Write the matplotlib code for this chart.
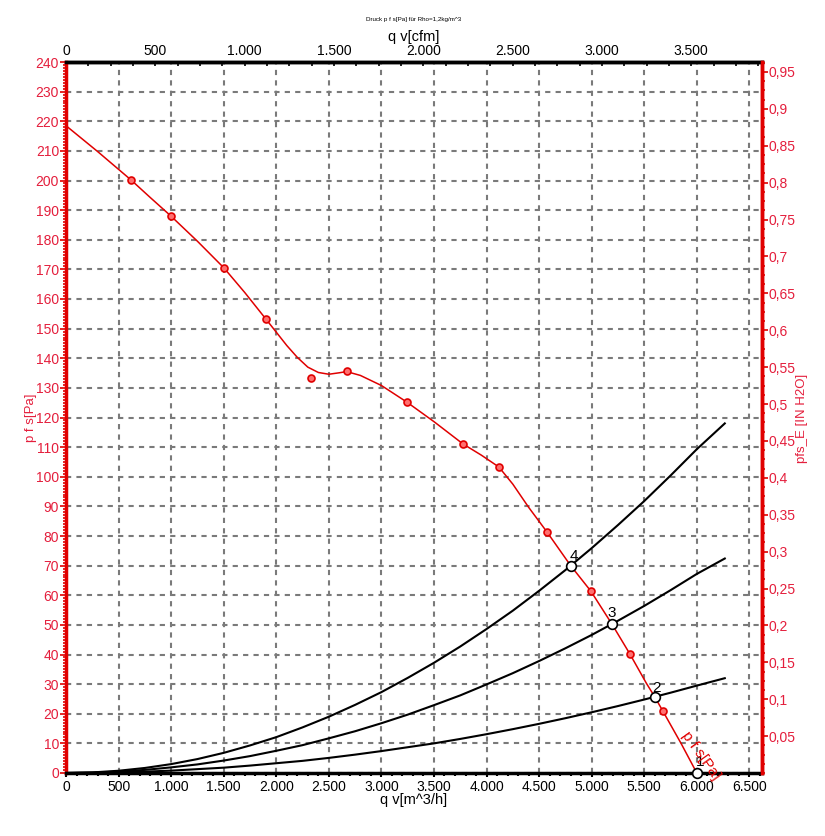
#import
import matplotlib
matplotlib.use("Agg")
import matplotlib.pyplot as plt
from matplotlib.ticker import MultipleLocator, FuncFormatter, FixedLocator

plt.rcParams['font.family'] = ['Liberation Sans', 'DejaVu Sans']

#data
# fan curve (smooth line) q v [m^3/h] / p f s [Pa]
q_curve = [0, 300, 618, 800, 998, 1250, 1502, 1700, 1902, 2000, 2100, 2200, 2300, 2400, 2500, 2600, 2669,
           2800, 3000, 3242, 3500, 3775, 3950, 4117, 4250, 4400, 4574, 4800, 4992, 5192, 5363, 5520, 5600,
           5677, 5850, 6000]
p_curve = [218.5, 209.8, 200.2, 194.3, 188.0, 179.5, 170.5, 162.2, 153.2, 148.8, 144.3, 140.3, 137.0, 135.2,
           134.6, 135.1, 135.5, 134.2, 130.8, 125.2, 118.6, 111.1, 107.3, 103.3, 97.5, 89.7, 81.4, 70.0, 61.4,
           50.3, 40.2, 30.3, 25.7, 20.9, 10.0, 0.0]
# measured points
q_meas = [618, 998, 1502, 1902, 2326, 2669, 3242, 3775, 4117, 4574, 4992, 5363, 5677]
p_meas = [200.2, 188.0, 170.5, 153.2, 133.4, 135.8, 125.2, 111.1, 103.3, 81.4, 61.4, 40.2, 20.9]

# system curves
q_sys = [0, 250, 500, 750, 1000, 1250, 1500, 1750, 2000, 2250, 2500, 2750, 3000, 3250, 3500, 3750,
         4000, 4250, 4500, 4750, 5000, 5250, 5500, 5750, 6000, 6266]
p_sys4 = [0, 0.19, 0.76, 1.7, 3.0, 4.7, 6.8, 9.3, 12.1, 15.4, 19.0, 23.0, 27.3, 32.1, 37.2, 42.7,
          48.6, 54.8, 61.5, 68.5, 75.9, 83.7, 91.8, 100.4, 109.3, 118.0]
p_sys3 = [0, 0.12, 0.47, 1.05, 1.9, 2.9, 4.2, 5.7, 7.5, 9.4, 11.7, 14.1, 16.8, 19.7, 22.9, 26.2,
          29.9, 33.7, 37.8, 42.1, 46.6, 51.4, 56.4, 61.7, 67.2, 72.4]
p_sys2 = [0, 0.05, 0.2, 0.46, 0.8, 1.3, 1.8, 2.5, 3.3, 4.1, 5.1, 6.2, 7.4, 8.7, 10.0, 11.5,
          13.1, 14.8, 16.6, 18.5, 20.5, 22.6, 24.8, 27.1, 29.5, 32.0]

# operating points
q_op = [6000, 5600, 5192, 4802]
p_op = [0.0, 25.7, 50.3, 70.0]
op_labels = ["1", "2", "3", "4"]

# tick values
cfm_ticks = [0, 500, 1000, 1500, 2000, 2500, 3000, 3500]
inh2o_ticks = [0.05, 0.1, 0.15, 0.2, 0.25, 0.3, 0.35, 0.4, 0.45, 0.5,
               0.55, 0.6, 0.65, 0.7, 0.75, 0.8, 0.85, 0.9, 0.95]

CFM = 1.699   # m^3/h per cfm
PA_IN = 249.09  # Pa per inch H2O
red = '#e00000'
txt_red = '#e41e3c'

#plotting
fig = plt.figure(figsize=(8.25, 8.36), dpi=100)
ax = fig.add_axes([66/825, 1-773/836, 696/825, 711/836])
ax.set_xlim(0, 6620)
ax.set_ylim(0, 240)

ax.plot(q_sys, p_sys4, color='black', lw=1.5, zorder=3)
ax.plot(q_sys, p_sys3, color='black', lw=1.5, zorder=3)
ax.plot(q_sys, p_sys2, color='black', lw=1.5, zorder=3)

ax.plot(q_curve, p_curve, color=red, lw=1.1, zorder=4)
ax.plot(q_meas, p_meas, 'o', ms=5, mfc='#ff7070', mec=red, mew=1.2, zorder=5)

ax.plot(q_op, p_op, 'o', ms=7, mfc='white', mec='black', mew=1.2, zorder=6, clip_on=False)
offs = [(3, 11), (2, 9), (0, 11), (3, 10)]
for q, p, lab, o in zip(q_op, p_op, op_labels, offs):
    ax.annotate(lab, (q, p), xytext=o, textcoords='offset pixels', ha='center', va='center',
                fontsize=11, zorder=7, annotation_clip=False)

ax.text(6038, 6, "p f s[Pa]", color=red, fontsize=11, rotation=-54.5,
        rotation_mode='anchor', ha='center', va='center', zorder=7, clip_on=False)

#grid
ax.xaxis.set_major_locator(MultipleLocator(500))
ax.xaxis.set_minor_locator(MultipleLocator(100))
ax.yaxis.set_major_locator(MultipleLocator(10))
ax.yaxis.set_minor_locator(MultipleLocator(1))
ax.grid(True, which='major', color='#7a7a7a', lw=1.5, ls=(0, (2.5, 2.5)), zorder=1)

dotfmt = FuncFormatter(lambda v, pos: f"{int(round(v)):,}".replace(',', '.'))
ax.xaxis.set_major_formatter(dotfmt)
ax.tick_params(axis='x', which='both', direction='out', colors='black', labelsize=10, pad=2)
ax.tick_params(axis='x', which='major', length=3, width=1.5)
ax.tick_params(axis='x', which='minor', length=2, width=1.5)
ax.tick_params(axis='y', which='both', direction='out', color=red, labelcolor=txt_red, labelsize=10, pad=1)
ax.tick_params(axis='y', which='major', length=4, width=1.2)
ax.tick_params(axis='y', which='minor', length=2, width=1.2)

for s in ['top', 'bottom']:
    ax.spines[s].set_color('black')
    ax.spines[s].set_linewidth(2.5)
for s in ['left', 'right']:
    ax.spines[s].set_color(red)
    ax.spines[s].set_linewidth(2.5)

#top axis cfm
top = ax.secondary_xaxis('top', functions=(lambda x: x / CFM, lambda x: x * CFM))
top.xaxis.set_major_locator(FixedLocator(cfm_ticks))
top.xaxis.set_minor_locator(FixedLocator([c + 125 * i for c in cfm_ticks for i in (1, 2, 3)]))
top.xaxis.set_major_formatter(dotfmt)
top.tick_params(which='both', direction='in', length=3, width=1.2, labelsize=10, pad=3)
top.spines['top'].set_linewidth(2.5)

#right axis in H2O
ax2 = ax.twinx()
ax2.set_ylim(0, 240 / PA_IN)
ax2.yaxis.set_major_locator(FixedLocator(inh2o_ticks))
ax2.yaxis.set_minor_locator(MultipleLocator(0.0125))
ax2.yaxis.set_major_formatter(FuncFormatter(lambda v, pos: f"{v:.2f}".rstrip('0').replace('.', ',')))
ax2.tick_params(axis='y', which='both', direction='out', color=red, labelcolor=txt_red, labelsize=10, pad=1)
ax2.tick_params(axis='y', which='major', length=4, width=1.2)
ax2.tick_params(axis='y', which='minor', length=2, width=1.2)
for s in ['top', 'bottom', 'left']:
    ax2.spines[s].set_visible(False)
ax2.spines['right'].set_color(red)
ax2.spines['right'].set_linewidth(2.5)

#Adding Labels
fig.text(414/825, 1-800/836, "q v[m^3/h]", ha='center', va='center', fontsize=10.5)
fig.text(414/825, 1-37/836, "q v[cfm]", ha='center', va='center', fontsize=10.5)
fig.text(31/825, 1-418/836, "p f s[Pa]", ha='center', va='center', fontsize=9.5, color=txt_red, rotation=90)
fig.text(802/825, 1-418/836, "pfs_E [IN H2O]", ha='center', va='center', fontsize=9.5, color=txt_red, rotation=90)

#adding Title
fig.text(414/825, 1-19/836, "Druck p f s[Pa] für Rho=1,2kg/m^3", ha='center', va='center', fontsize=4.5)

#saving graph
fig.savefig("out.png", dpi=100)
